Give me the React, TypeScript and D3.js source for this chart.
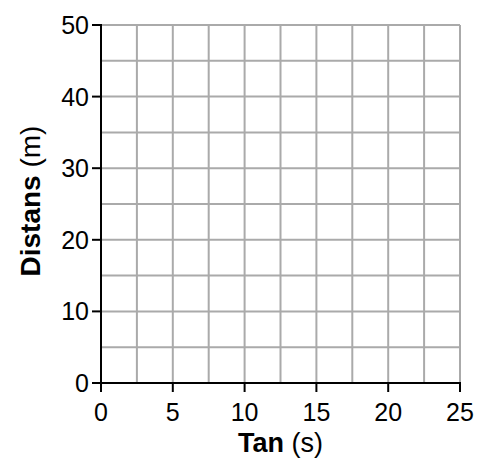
import React from "react";
import * as d3 from "d3";

const xTicks = [0, 5, 10, 15, 20, 25];
const yTicks = [0, 10, 20, 30, 40, 50];
const xGrid = [2.5, 5, 7.5, 10, 12.5, 15, 17.5, 20, 22.5, 25];
const yGrid = [5, 10, 15, 20, 25, 30, 35, 40, 45, 50];
const xTitle = ["Tan", "(s)"];
const yTitle = ["Distans", "(m)"];

export default function App() {
  const W = 477, H = 466;
  const left = 101, right = 460, top = 25, bottom = 383;
  const x = d3.scaleLinear().domain([0, 25]).range([left, right]);
  const y = d3.scaleLinear().domain([0, 50]).range([bottom, top]);
  const font = "Liberation Sans, Arial, sans-serif";
  return (
    <svg width={W} height={H} style={{ position: "absolute", left: 0, top: 0 }} fontFamily={font}>
      <rect width={W} height={H} fill="#fff" />
      {xGrid.map((v) => (
        <line key={"vx" + v} x1={x(v)} x2={x(v)} y1={y(0)} y2={y(50)} stroke="#aaaaaa" strokeWidth={2} />
      ))}
      {yGrid.map((v) => (
        <line key={"hy" + v} x1={x(0)} x2={x(25)} y1={y(v)} y2={y(v)} stroke="#aaaaaa" strokeWidth={2} />
      ))}
      <line x1={x(0)} x2={x(0)} y1={y(0) + 1} y2={y(50) - 1} stroke="#000" strokeWidth={2} />
      <line x1={x(0) - 1} x2={x(25) + 1} y1={y(0)} y2={y(0)} stroke="#000" strokeWidth={2} />
      {xTicks.map((v) => (
        <g key={"xt" + v}>
          <line x1={x(v)} x2={x(v)} y1={y(0)} y2={y(0) + 9} stroke="#000" strokeWidth={2} />
          <text x={x(v)} y={421} textAnchor="middle" fontSize={25} fill="#000">{v}</text>
        </g>
      ))}
      {yTicks.map((v) => (
        <g key={"yt" + v}>
          <line x1={x(0) - 9} x2={x(0)} y1={y(v)} y2={y(v)} stroke="#000" strokeWidth={2} />
          <text x={89} y={y(v) + 9} textAnchor="end" fontSize={25} fill="#000">{v}</text>
        </g>
      ))}
      <text x={(left + right) / 2} y={452} textAnchor="middle" fontSize={27} fill="#000">
        <tspan fontWeight="bold">{xTitle[0]}</tspan>
        <tspan> {xTitle[1]}</tspan>
      </text>
      <text transform={`translate(40, ${(top + bottom) / 2 - 3}) rotate(-90)`} textAnchor="middle" fontSize={28} fill="#000">
        <tspan fontWeight="bold">{yTitle[0]}</tspan>
        <tspan> {yTitle[1]}</tspan>
      </text>
    </svg>
  );
}
